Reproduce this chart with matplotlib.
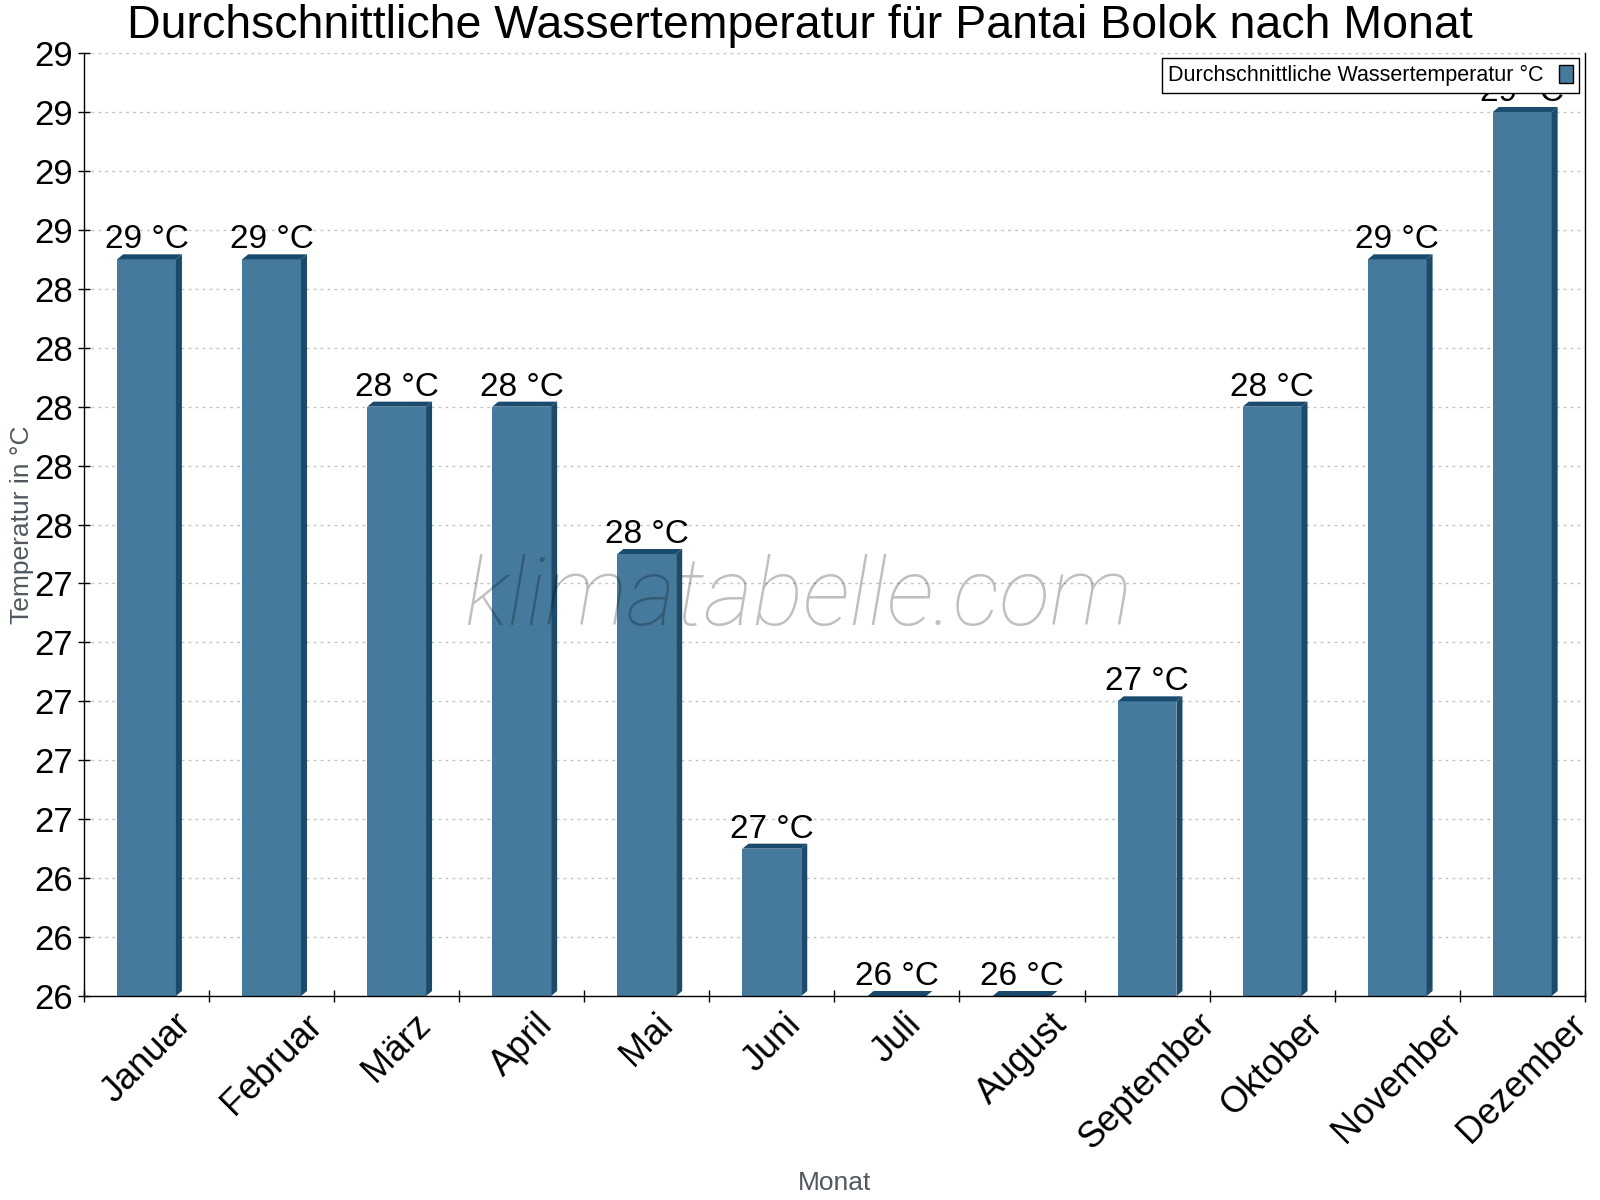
import numpy as np
import matplotlib
matplotlib.use('Agg')
import matplotlib.pyplot as plt
from matplotlib.patches import Polygon, Patch

plt.rcParams['font.family'] = ['Liberation Sans', 'DejaVu Sans']

months = ['Januar', 'Februar', 'März', 'April', 'Mai', 'Juni', 'Juli',
          'August', 'September', 'Oktober', 'November', 'Dezember']
water_temp = [28.5, 28.5, 28.0, 28.0, 27.5, 26.5, 26.0, 26.0, 27.0, 28.0, 28.5, 29.0]
y_ticks = np.round(np.arange(26.0, 29.21, 0.2), 1)

face = '#467a9c'
dark = '#1a4b6c'
base = 26.0

fig = plt.figure(figsize=(16, 12), dpi=100)
ax = fig.add_axes([0.0525, 0.17, 0.938, 0.7858])
ax.set_xlim(-0.5, len(months) - 0.5)
ax.set_ylim(26.0, 29.2)

# depth of the fake 3d effect, in data units (6 px right, 5 px up)
bbox = ax.get_window_extent()
dx = 6 * (len(months)) / bbox.width
dy = 5 * 3.2 / bbox.height

x = np.arange(len(months))
w = 0.47
ax.bar(x, np.array(water_temp) - base, bottom=base, width=w, color=face, zorder=2)
for xi, v in zip(x, water_temp):
    x0, x1 = xi - w / 2, xi + w / 2
    top = Polygon([(x0, v), (x0 + dx, v + dy), (x1 + dx, v + dy), (x1, v)],
                  closed=True, facecolor=dark, edgecolor='none', zorder=2)
    side = Polygon([(x1, v), (x1 + dx, v + dy), (x1 + dx, base + dy), (x1, base)],
                   closed=True, facecolor=dark, edgecolor='none', zorder=2)
    ax.add_patch(top)
    ax.add_patch(side)
    ax.annotate(f"{int(np.floor(v + 0.5))} °C", (xi, v + dy), xytext=(0, 6),
                textcoords='offset pixels', ha='center', va='baseline',
                fontsize=24, zorder=3)

ax.set_yticks(y_ticks)
ax.set_yticklabels([f"{v:.0f}" for v in y_ticks])
ax.set_xticks(x)
ax.set_xticklabels(months, rotation=45)
ax.set_xticks(np.arange(-0.5, len(months)), minor=True)
ax.tick_params(axis='x', which='major', length=0, pad=8, labelsize=26)
ax.tick_params(axis='x', which='minor', length=8, direction='inout', width=1)
ax.tick_params(axis='y', length=8, direction='inout', width=1, pad=4, labelsize=25)

ax.grid(axis='y', color='#c4c4c4', linestyle=(0, (2, 3)), linewidth=1)
ax.set_axisbelow(True)
ax.spines['top'].set_visible(False)
for s in ['left', 'bottom', 'right']:
    ax.spines[s].set_linewidth(1)

ax.set_ylabel('Temperatur in °C', fontsize=19, color='#505860')
ax.yaxis.set_label_coords(-0.033, 0.5)
ax.set_xlabel('Monat', fontsize=19, color='#505860')
ax.xaxis.set_label_coords(0.5, -0.186)

fig.text(0.5, 0.968, 'Durchschnittliche Wassertemperatur für Pantai Bolok nach Monat',
         ha='center', va='baseline', fontsize=33.5)

ax.text(0.476, 0.393, 'klimatabelle.com', transform=ax.transAxes, ha='center',
        va='baseline', fontsize=68, family=['Roboto', 'Liberation Sans'],
        fontweight='light', style='italic', color='black', alpha=0.25, zorder=4)

handle = Patch(facecolor=face, edgecolor='black', linewidth=1)
leg = ax.legend([handle], ['Durchschnittliche Wassertemperatur °C'], loc='upper right',
                fontsize=15.5, markerfirst=False, fancybox=False, framealpha=1,
                edgecolor='black', borderaxespad=0.25, handlelength=0.65,
                handleheight=0.9, handletextpad=0.7, borderpad=0.3)
leg.get_frame().set_linewidth(1)
leg.set_zorder(5)

fig.savefig('out.png', dpi=100)
